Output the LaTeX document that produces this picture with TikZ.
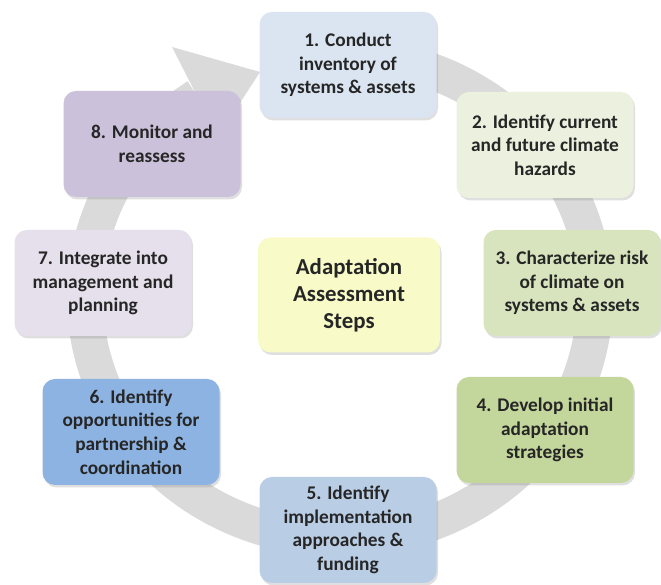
\documentclass[tikz,border=0pt]{standalone}
\usepackage{fontspec}
\setmainfont{Carlito}
\usepackage{tikz}
\usetikzlibrary{shadows,calc}
\definecolor{RingGray}{HTML}{DADADA}
\definecolor{StepOne}{HTML}{DAE5F1}
\definecolor{StepTwo}{HTML}{EBF1DE}
\definecolor{StepThree}{HTML}{D7E4BD}
\definecolor{StepFour}{HTML}{C3D69B}
\definecolor{StepFive}{HTML}{B9CDE5}
\definecolor{StepSix}{HTML}{8DB3E2}
\definecolor{StepSeven}{HTML}{E5E0EC}
\definecolor{StepEight}{HTML}{CCC1DA}
\definecolor{HubYellow}{HTML}{F8FAC8}

\begin{document}
\begin{tikzpicture}[
    stepbox/.style={rounded corners=0.25cm, minimum width=3.54cm, minimum height=2.12cm,
        align=center, text=black!85, font=\fontsize{11}{13.4}\selectfont\bfseries,
        drop shadow={shadow xshift=0.03cm, shadow yshift=-0.05cm, opacity=0.25}},
    hubbox/.style={stepbox, minimum width=3.64cm, minimum height=2.3cm,
        font=\fontsize{13}{15.4}\selectfont\bfseries}
]
    \useasboundingbox (0,0) rectangle (13.22,11.70);

    % Cycle arrow
    \coordinate (hub) at (6.80,5.76);
    \draw[line width=0.72cm, RingGray] ($(hub)+(80:5.10cm and 4.84cm)$)
        arc[start angle=80, end angle=-236, x radius=5.10cm, y radius=4.84cm];
    \coordinate (headout) at (3.44,10.76);
    \coordinate (headtip) at (5.20,10.26);
    \coordinate (headin) at (4.36,8.96);
    \fill[RingGray] (headout) -- (headtip) -- (headin) -- cycle;

    % Steps
    \node[stepbox, fill=StepOne] (s1) at (6.96,10.40) {1. Conduct\\inventory of\\systems \& assets};
    \node[stepbox, fill=StepTwo] (s2) at (10.90,8.80) {2. Identify current\\and future climate\\hazards};
    \node[stepbox, fill=StepThree] (s3) at (11.44,6.04) {3. Characterize risk\\of climate on\\systems \& assets};
    \node[stepbox, fill=StepFour] (s4) at (10.90,3.10) {4. Develop initial\\adaptation\\strategies};
    \node[stepbox, fill=StepFive] (s5) at (6.96,1.10) {5. Identify\\implementation\\approaches \&\\funding};
    \node[stepbox, fill=StepSix] (s6) at (2.62,3.06) {6. Identify\\opportunities for\\partnership \&\\coordination};
    \node[stepbox, fill=StepSeven] (s7) at (2.06,6.04) {7. Integrate into\\management and\\planning};
    \node[stepbox, fill=StepEight] (s8) at (3.04,8.82) {8. Monitor and\\reassess};

    % Title
    \node[hubbox, fill=HubYellow] (title) at (6.98,5.80) {Adaptation\\Assessment\\Steps};
\end{tikzpicture}
\end{document}
